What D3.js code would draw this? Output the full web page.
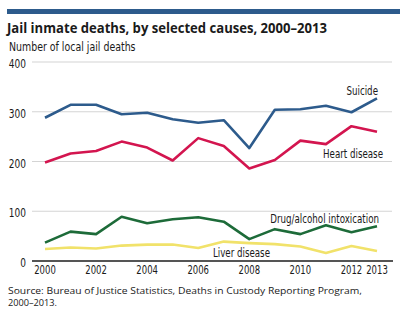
<!DOCTYPE html>
<html>
<head>
<meta charset="utf-8">
<script src="https://cdn.jsdelivr.net/npm/d3@7"></script>
<style>
    body { margin: 0; background: #fff; }
    svg { display: block; }
    .narrow { font-family: "Liberation Sans Narrow", "DejaVu Sans Condensed", sans-serif; }
</style>
</head>
<body>
<div id="chart"></div>
<script>
// Years on the x axis
const years = d3.range(2000, 2014);

// Deaths per year for each cause
const suicide = [288, 314, 314, 295, 298, 285, 278, 283, 227, 304, 305, 312, 299, 327];
const heartDisease = [198, 216, 221, 240, 228, 202, 247, 231, 186, 203, 242, 235, 271, 260];
const drugAlcohol = [37, 59, 54, 89, 76, 84, 88, 79, 44, 64, 54, 72, 58, 70];
const liverDisease = [24, 27, 25, 31, 33, 33, 26, 39, 36, 34, 29, 16, 30, 20];

const yTicks = [0, 100, 200, 300, 400];
const xTickLabels = [2000, 2002, 2004, 2006, 2008, 2010, 2012, 2013];

const series = [
    { name: "Suicide", values: suicide, color: "#2d5b8c" },
    { name: "Heart disease", values: heartDisease, color: "#d3154f" },
    { name: "Drug/alcohol intoxication", values: drugAlcohol, color: "#1d6b39" },
    { name: "Liver disease", values: liverDisease, color: "#f1e26a" },
];

const width = 400;
const height = 322;

// Squeeze condensed labels a little tighter than the installed font draws them
const condense = (selection, factor = 0.87) => {
    selection.each(function () {
        const len = this.getComputedTextLength();
        d3.select(this)
            .attr("textLength", len * factor)
            .attr("lengthAdjust", "spacingAndGlyphs");
    });
};

const svg = d3.select("#chart")
    .append("svg")
    .attr("width", width)
    .attr("height", height);

// Header rule and titles
svg.append("rect")
    .attr("x", 7).attr("y", 9)
    .attr("width", width - 7).attr("height", 5)
    .attr("fill", "#2d5b8c");

svg.append("text")
    .attr("x", 7).attr("y", 33)
    .attr("font-family", "'Open Sans', sans-serif")
    .attr("font-weight", "bold")
    .attr("font-size", 15)
    .attr("fill", "#1a1a1a")
    .attr("textLength", 320)
    .attr("lengthAdjust", "spacingAndGlyphs")
    .text("Jail inmate deaths, by selected causes, 2000–2013");

svg.append("text")
    .attr("class", "narrow")
    .attr("x", 9).attr("y", 51)
    .attr("font-size", 11.5)
    .attr("fill", "#1a1a1a")
    .text("Number of local jail deaths")
    .call(condense, 0.91);

const x = d3.scaleLinear().domain([2000, 2013]).range([45, 377]);
const y = d3.scaleLinear().domain([0, 400]).range([261, 62]);

// Gridlines
svg.append("g")
    .selectAll("line")
    .data(yTicks.filter((d) => d > 0))
    .join("line")
    .attr("x1", 32).attr("x2", 392)
    .attr("y1", (d) => y(d)).attr("y2", (d) => y(d))
    .attr("stroke", "#d4d4d4")
    .attr("stroke-width", 1.2);

// Y tick labels
svg.append("g")
    .attr("class", "narrow")
    .attr("font-size", 11.5)
    .attr("fill", "#1a1a1a")
    .attr("text-anchor", "end")
    .selectAll("text")
    .data(yTicks)
    .join("text")
    .attr("x", 26)
    .attr("y", (d) => y(d) + 2)
    .attr("dy", "0.35em")
    .text((d) => d)
    .call(condense);

// Baseline
svg.append("line")
    .attr("x1", 32).attr("x2", 393)
    .attr("y1", y(0)).attr("y2", y(0))
    .attr("stroke", "#555")
    .attr("stroke-width", 2);

// X tick labels
svg.append("g")
    .attr("class", "narrow")
    .attr("font-size", 11.5)
    .attr("fill", "#1a1a1a")
    .attr("text-anchor", "middle")
    .selectAll("text")
    .data(xTickLabels)
    .join("text")
    .attr("x", (d) => x(d))
    .attr("y", 274)
    .text((d) => d)
    .call(condense, 0.82);

// Lines, drawn bottom series first
const line = d3.line()
    .x((d, i) => x(years[i]))
    .y((d) => y(d));

svg.append("g")
    .selectAll("path")
    .data(series.slice().reverse())
    .join("path")
    .attr("d", (d) => line(d.values))
    .attr("fill", "none")
    .attr("stroke", (d) => d.color)
    .attr("stroke-width", 2.6)
    .attr("stroke-linejoin", "round");

// Series labels
const seriesLabels = [
    { text: "Suicide", x: 378, y: 95 },
    { text: "Heart disease", x: 383, y: 158 },
    { text: "Drug/alcohol intoxication", x: 379, y: 223 },
    { text: "Liver disease", x: 270, y: 257 },
];

svg.append("g")
    .attr("class", "narrow")
    .attr("font-size", 11.5)
    .attr("fill", "#1a1a1a")
    .attr("text-anchor", "end")
    .selectAll("text")
    .data(seriesLabels)
    .join("text")
    .attr("x", (d) => d.x)
    .attr("y", (d) => d.y)
    .text((d) => d.text)
    .call(condense, 0.84);

// Source note
const source = svg.append("g")
    .attr("font-family", "'Open Sans', sans-serif")
    .attr("font-size", 9.5)
    .attr("fill", "#1a1a1a");

source.append("text")
    .attr("x", 8).attr("y", 294)
    .attr("textLength", 354)
    .attr("lengthAdjust", "spacingAndGlyphs")
    .text("Source: Bureau of Justice Statistics, Deaths in Custody Reporting Program,");

source.append("text")
    .attr("x", 8).attr("y", 305.5)
    .attr("textLength", 49)
    .attr("lengthAdjust", "spacingAndGlyphs")
    .text("2000–2013.");
</script>
</body>
</html>
